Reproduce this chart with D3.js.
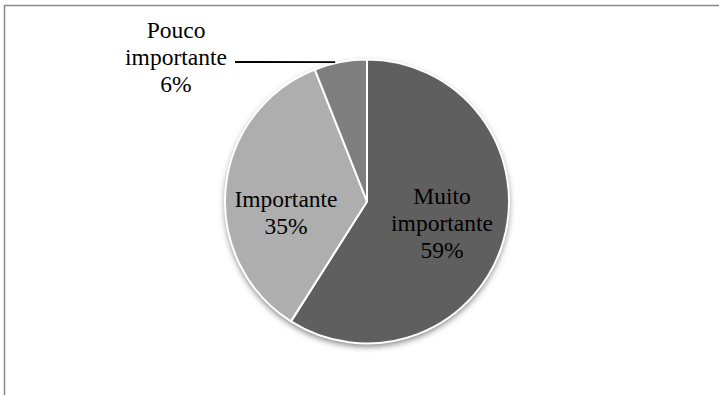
<!DOCTYPE html>
<html><head><meta charset="utf-8">
<script src="https://cdn.jsdelivr.net/npm/d3@7"></script>
<style>body{margin:0;background:#fff}svg{display:block}</style>
</head><body>
<script>
const categories = ["Muito importante", "Importante", "Pouco importante"];
const values = [59, 35, 6];
const colors = ["#5f5f5f", "#aeaeae", "#7f7f7f"];
const labelLines = [["Muito", "importante", "59%"], ["Importante", "35%"], ["Pouco", "importante", "6%"]];

const W = 719, H = 395;
const cx = 367, cy = 201.5, R = 142;
const svg = d3.select("body").append("svg").attr("width", W).attr("height", H);

const defs = svg.append("defs");
const f = defs.append("filter").attr("id", "sh").attr("x", "-20%").attr("y", "-20%").attr("width", "140%").attr("height", "140%");
f.append("feDropShadow").attr("dx", 0).attr("dy", 3).attr("stdDeviation", 3).attr("flood-color", "#000").attr("flood-opacity", 0.5);

// frame
svg.append("path").attr("d", `M4.5,${H} V5.5 H${W}`).attr("fill", "none").attr("stroke", "#8a8a8a").attr("stroke-width", 1.5);

const data = categories.map((c, i) => ({cat: c, value: values[i], i}));
const pie = d3.pie().sort(null).value(d => d.value);
const arcs = pie(data);
const arc = d3.arc().innerRadius(0).outerRadius(R);

const g = svg.append("g").attr("transform", `translate(${cx},${cy})`);
g.append("circle").attr("r", R).attr("fill", "#fff").attr("filter", "url(#sh)");
g.selectAll("path.s").data(arcs).join("path").attr("class", "s")
  .attr("d", arc).attr("fill", d => colors[d.data.i])
  .attr("stroke", "#fff").attr("stroke-width", 2).attr("stroke-linejoin", "round");

// labels
const font = "'Liberation Serif','Times New Roman',serif";
const labelPos = [[442, 204], [286, 207], [176, 38]];
const lh = 27;
labelLines.forEach((lines, i) => {
  const t = svg.append("text").attr("text-anchor", "middle")
    .attr("font-family", font).attr("font-size", 23.5).attr("fill", "#000");
  lines.forEach((s, k) => {
    t.append("tspan").attr("x", labelPos[i][0]).attr("y", labelPos[i][1] + k * lh).text(s);
  });
});

// leader line for small slice
const a = arcs[2];
const edgeAng = a.startAngle + (a.endAngle - a.startAngle) * 0.4;
const ex = cx + R * Math.sin(edgeAng), ey = cy - R * Math.cos(edgeAng);
svg.append("line").attr("x1", 235).attr("y1", 62).attr("x2", ex).attr("y2", ey - 1)
  .attr("stroke", "#000").attr("stroke-width", 1.8);
</script>
</body></html>
